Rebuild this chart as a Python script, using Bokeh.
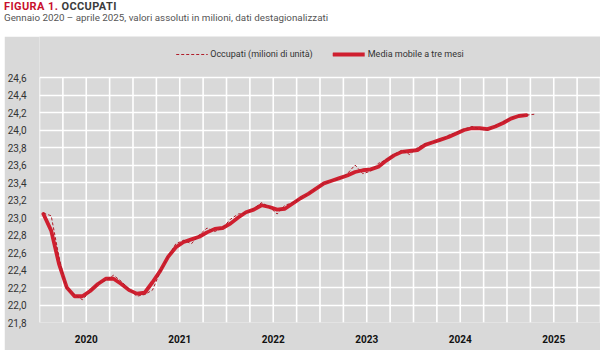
from bokeh.plotting import figure
from bokeh.models import (Range1d, FixedTicker, CustomJSTickFormatter, Legend, LegendItem, Div)
from bokeh.layouts import column
from bokeh.embed import file_html
from bokeh.resources import INLINE

# ---- data ----
anni = ["2020", "2021", "2022", "2023", "2024", "2025"]

occupati = [23.05, 23.02, 22.55, 22.18, 22.12, 22.06, 22.15, 22.25, 22.28, 22.34,
            22.27, 22.18, 22.10, 22.12, 22.17, 22.38, 22.55, 22.70, 22.74, 22.70,
            22.80, 22.88, 22.84, 22.88, 22.98, 23.04, 23.05, 23.10, 23.17, 23.12,
            23.04, 23.14, 23.17, 23.22, 23.27, 23.33, 23.39, 23.42, 23.44, 23.50,
            23.60, 23.50, 23.53, 23.62, 23.66, 23.72, 23.77, 23.72, 23.80, 23.84,
            23.86, 23.88, 23.94, 23.97, 24.01, 24.04, 24.01, 24.00, 24.05, 24.09,
            24.14, 24.16, 24.17, 24.18]

media_mobile = [23.04, 22.85, 22.47, 22.20, 22.10, 22.10, 22.16, 22.24, 22.30, 22.30,
                22.24, 22.17, 22.13, 22.14, 22.26, 22.39, 22.55, 22.66, 22.72, 22.75,
                22.78, 22.83, 22.87, 22.88, 22.93, 23.00, 23.06, 23.09, 23.14, 23.12,
                23.09, 23.10, 23.16, 23.22, 23.27, 23.33, 23.39, 23.42, 23.45, 23.48,
                23.52, 23.54, 23.55, 23.58, 23.65, 23.71, 23.75, 23.76, 23.77, 23.83,
                23.86, 23.89, 23.92, 23.96, 24.00, 24.02, 24.02, 24.01, 24.04, 24.08,
                24.13, 24.16, 24.17]

y_ticks = [21.8, 22.0, 22.2, 22.4, 22.6, 22.8, 23.0, 23.2, 23.4, 23.6,
           23.8, 24.0, 24.2, 24.4, 24.6]

serie_labels = ["Occupati (milioni di unità)", "Media mobile a tre mesi"]

FONT = "Roboto"
RED = "#cf1f2f"
GRAY = "#d9d9d9"

n_months = 12 * len(anni)
x_occ = list(range(len(occupati)))
x_ma = list(range(len(media_mobile)))

# layout geometry (pixels)
FIG_W, FIG_H = 596, 314
B_LEFT, B_BOTTOM = 35, 28
LEGEND_ZONE = 41                      # gray space above the plotting area
plot_h = FIG_H - B_BOTTOM - LEGEND_ZONE
y_span = y_ticks[-1] - y_ticks[0]
y_top = y_ticks[-1] + y_span * LEGEND_ZONE / plot_h

title = Div(
    text=('<div style="font-family:Roboto,sans-serif;padding-left:4px;">'
          '<div style="line-height:14px;font-weight:bold;font-size:11px;letter-spacing:0.4px;">'
          '<span style="color:#c8102e;">FIGURA 1.</span>'
          '<span style="color:#3c3c3c;"> OCCUPATI</span></div>'
          '<div style="line-height:12px;font-size:9.8px;color:#555555;margin-top:-2px;">'
          'Gennaio 2020 – aprile 2025, valori assoluti in milioni, dati destagionalizzati</div>'
          '</div>'),
    width=600, height=36, margin=(0, 0, 0, 0))

p = figure(width=FIG_W, height=FIG_H,
           x_range=Range1d(-0.5, n_months - 0.5), y_range=Range1d(y_ticks[0], y_top),
           output_backend="svg", toolbar_location=None,
           min_border_left=B_LEFT, min_border_right=0, min_border_top=0, min_border_bottom=B_BOTTOM,
           background_fill_color=GRAY, border_fill_color=GRAY, outline_line_color=None,
           margin=(0, 0, 0, 4))

# vertical quarter gridlines, limited to the value range of the plotting area
q_x = [3 * i - 0.5 for i in range(n_months // 3 + 1)]
p.segment(x0=q_x, x1=q_x, y0=[y_ticks[0]] * len(q_x), y1=[y_ticks[-1]] * len(q_x),
          line_color="white", line_width=1.6)
p.xgrid.visible = False

r_ma = p.line(x_ma, media_mobile, line_width=3.8, line_color=RED, line_join="round", line_cap="round")
r_occ = p.line(x_occ, occupati, line_width=1, line_color="#b01e2a", line_dash="3 2")

# axes
p.yaxis.ticker = FixedTicker(ticks=y_ticks)
p.yaxis.formatter = CustomJSTickFormatter(code="return tick.toFixed(1).replace('.', ',');")
p.yaxis.axis_line_color = None
p.yaxis.major_tick_line_color = None
p.yaxis.minor_tick_line_color = None
p.yaxis.major_label_text_font = FONT
p.yaxis.major_label_text_font_size = "10px"
p.yaxis.major_label_text_color = "#333333"
p.yaxis.major_label_standoff = 7

p.xaxis.ticker = FixedTicker(ticks=[12 * i + 5.5 for i in range(len(anni))])
p.xaxis.formatter = CustomJSTickFormatter(args=dict(anni=anni),
                                          code="return anni[Math.round((tick - 5.5) / 12)];")
p.xaxis.axis_line_color = None
p.xaxis.major_tick_line_color = None
p.xaxis.minor_tick_line_color = None
p.xaxis.major_label_text_font = FONT
p.xaxis.major_label_text_font_size = "10px"
p.xaxis.major_label_text_font_style = "bold"
p.xaxis.major_label_text_color = "#111111"
p.xaxis.major_label_standoff = 6

p.ygrid.ticker = FixedTicker(ticks=y_ticks)
p.ygrid.grid_line_color = "white"
p.ygrid.grid_line_width = 1.6
p.ygrid.grid_line_alpha = 1.0

legend = Legend(items=[LegendItem(label=serie_labels[0], renderers=[r_occ]),
                       LegendItem(label=serie_labels[1], renderers=[r_ma])],
                orientation="horizontal", location="top_center",
                background_fill_alpha=0, border_line_alpha=0,
                label_text_font=FONT, label_text_font_size="9px", label_text_color="#333333",
                glyph_width=32, glyph_height=10, spacing=20, padding=2, margin=11,
                label_standoff=3, label_height=10)
p.add_layout(legend, "center")

layout = column(title, p, spacing=0)
open("out.html", "w").write(file_html(layout, INLINE))
